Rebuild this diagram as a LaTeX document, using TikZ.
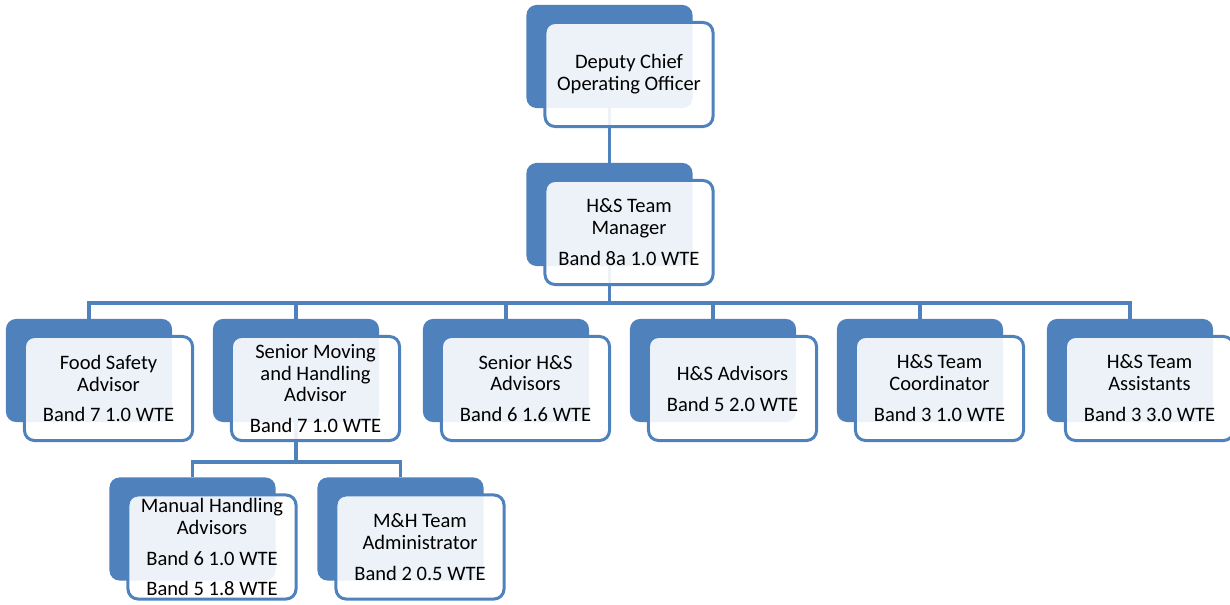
\documentclass[tikz,border=0pt]{standalone}
\usepackage{fontspec}
\setmainfont{Carlito}
\pgfdeclarelayer{bg}
\pgfsetlayers{bg,main}
\definecolor{hsblue}{RGB}{79,129,189}
\tikzset{
  back/.style={rectangle, rounded corners=0.25cm, fill=hsblue, minimum width=4.15cm, minimum height=2.575cm, inner sep=0pt},
  front/.style={rectangle, rounded corners=0.25cm, draw=hsblue, line width=0.075cm, fill=white, fill opacity=0.9, text opacity=1, minimum width=4.2cm, minimum height=2.6cm, inner sep=0pt, align=center, font=\fontsize{14.6}{15.6}\selectfont},
  conn/.style={draw=hsblue, line width=0.08cm}
}
\begin{document}
\begin{tikzpicture}[x=0.025cm,y=-0.025cm]
				\useasboundingbox (0,0) rectangle (1230,605);
				% top of the tree
				\node[back] at (609.5,56.5) (dcoo-b) {};
				\node[front] at (629,74.5) (dcoo) {Deputy Chief\\Operating Officer};
				\node[back] at (609.5,214.5) (hstm-b) {};
				\node[front] at (629,232.5) (hstm) {H\&S Team\\Manager\\[6.4pt]Band 8a 1.0 WTE};

				% team
				\node[back] at (89,370.5) (fsa-b) {};
				\node[front] at (108.5,388.5) (fsa) {Food Safety\\Advisor\\[6.4pt]Band 7 1.0 WTE};
				\node[back] at (296,370.5) (smha-b) {};
				\node[front] at (315.5,388.5) (smha) {Senior Moving\\and Handling\\Advisor\\[6.4pt]Band 7 1.0 WTE};
				\node[back] at (506,370.5) (shsa-b) {};
				\node[front] at (525.5,388.5) (shsa) {Senior H\&S\\Advisors\\[6.4pt]Band 6 1.6 WTE};
				\node[back] at (713,370.5) (hsa-b) {};
				\node[front] at (732.5,388.5) (hsa) {H\&S Advisors\\[6.4pt]Band 5 2.0 WTE};
				\node[back] at (920,370.5) (hstc-b) {};
				\node[front] at (939.5,388.5) (hstc) {H\&S Team\\Coordinator\\[6.4pt]Band 3 1.0 WTE};
				\node[back] at (1130,370.5) (hsta-b) {};
				\node[front] at (1149.5,388.5) (hsta) {H\&S Team\\Assistants\\[6.4pt]Band 3 3.0 WTE};

				% moving and handling
				\node[back] at (192.5,529) (mha-b) {};
				\node[front] at (212,547) (mha) {Manual Handling\\Advisors\\[6.4pt]Band 6 1.0 WTE\\[6.4pt]Band 5 1.8 WTE};
				\node[back] at (400.5,529) (mhta-b) {};
				\node[front] at (420,547) (mhta) {M\&H Team\\Administrator\\[6.4pt]Band 2 0.5 WTE};

				\coordinate (bar1) at (609.5,303);
				\coordinate (bar2) at (296,462);
				\begin{pgfonlayer}{bg}
					\draw[conn] (dcoo-b) -- (hstm-b);
					\draw[conn] (hstm-b) -- (bar1);
					\draw[conn] (fsa-b) |- (bar1) -| (hsta-b);
					\foreach \n in {smha,shsa,hsa,hstc}
						\draw[conn] (\n-b) -- (\n-b |- bar1);
					\draw[conn] (smha-b) -- (bar2);
					\draw[conn] (mha-b) |- (bar2) -| (mhta-b);
				\end{pgfonlayer}
\end{tikzpicture}
\end{document}
